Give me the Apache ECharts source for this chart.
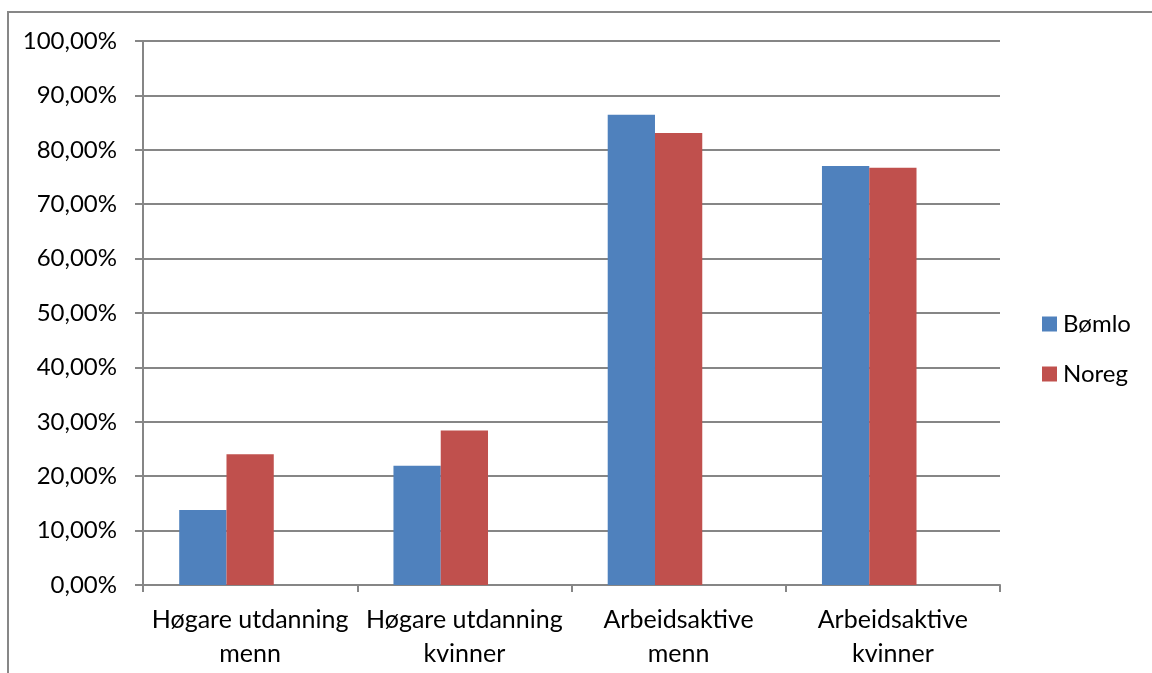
<!DOCTYPE html>
<html>
<head>
<meta charset="utf-8">
<script src="https://cdn.jsdelivr.net/npm/echarts@6/dist/echarts.min.js"></script>
<style>
html,body{margin:0;padding:0;background:#fff;}
#chart{width:1152px;height:673px;}
</style>
</head>
<body>
<div id="chart"></div>
<script>
var categories = ["Høgare utdanning\nmenn", "Høgare utdanning\nkvinner", "Arbeidsaktive\nmenn", "Arbeidsaktive\nkvinner"];
var bomlo = [13.8, 21.9, 86.45, 77.0];
var noreg = [24.05, 28.4, 83.1, 76.7];
var emptySeries = [null, null, null, null];
var seriesNames = ["Bømlo", "Noreg"];

var FONT = 'Lato';
var chart = echarts.init(document.getElementById('chart'));
chart.setOption({
  animation: false,
  backgroundColor: '#fff',
  textStyle: { fontFamily: FONT },
  graphic: [{
    type: 'rect',
    shape: { x: 8, y: 12, width: 2000, height: 2000 },
    style: { fill: 'none', stroke: '#878787', lineWidth: 2 },
    silent: true
  }],
  grid: { left: 143, right: 152, top: 41, bottom: 88, containLabel: false },
  legend: {
    orient: 'vertical',
    left: 1042,
    top: 312,
    padding: 0,
    itemWidth: 15,
    itemHeight: 15,
    itemGap: 26,
    icon: 'rect',
    textStyle: { fontFamily: FONT, fontSize: 24, color: '#000', padding: [0, 0, 0, 1] },
    data: seriesNames
  },
  xAxis: {
    type: 'category',
    data: categories,
    boundaryGap: true,
    axisLine: { lineStyle: { color: '#868686', width: 2 } },
    axisTick: { show: true, length: 7, alignWithLabel: false, lineStyle: { color: '#868686', width: 2 } },
    axisLabel: { fontFamily: FONT, fontSize: 25, color: '#000', lineHeight: 34, margin: 18, interval: 0 }
  },
  yAxis: {
    type: 'value',
    min: 0,
    max: 100,
    interval: 10,
    axisLine: { show: true, lineStyle: { color: '#868686', width: 2 } },
    axisTick: { show: true, length: 8, lineStyle: { color: '#868686', width: 2 } },
    splitLine: { show: true, lineStyle: { color: '#868686', width: 2 } },
    axisLabel: {
      fontFamily: FONT, fontSize: 24, color: '#000', margin: 26,
      formatter: function (v) { return v.toFixed(2).replace('.', ',') + '%'; }
    }
  },
  series: [
    { name: seriesNames[0], type: 'bar', data: bomlo, barGap: '0%', barCategoryGap: '33.8%', itemStyle: { color: '#4F81BD' } },
    { name: seriesNames[1], type: 'bar', data: noreg, barGap: '0%', barCategoryGap: '33.8%', itemStyle: { color: '#C0504D' } },
    { name: 'empty', type: 'bar', data: emptySeries, barGap: '0%', barCategoryGap: '33.8%', itemStyle: { color: '#9BBB59' } }
  ]
});
</script>
</body>
</html>
